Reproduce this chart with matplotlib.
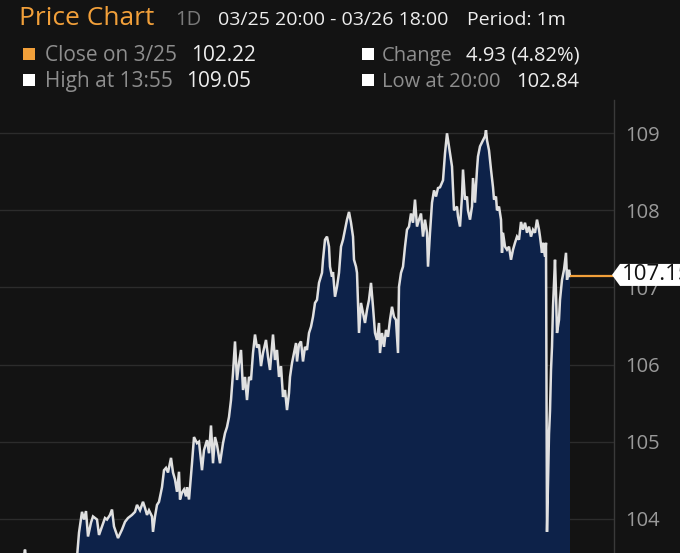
import matplotlib
matplotlib.use("Agg")
import matplotlib.pyplot as plt
from matplotlib import font_manager as fm
from matplotlib.patches import Polygon, Rectangle
from matplotlib.transforms import IdentityTransform

# ---------------- data ----------------
# t: sample position along the session (03/25 20:00 -> 03/26 18:00), price values
t = [0, 3, 6, 9, 12, 15, 18, 21, 23, 25, 27, 30, 33, 36, 40, 44, 48, 52, 56, 60,
     64, 68, 72, 75, 77,
     79, 82, 84, 86, 88, 91, 93, 97, 99, 102, 105, 107, 110, 112, 114, 117, 118,
     122, 125, 128, 132, 135, 137, 140, 143, 145, 147, 149, 152, 153, 155, 157,
     159, 162, 164, 166, 168, 171, 173, 175, 177, 179, 180, 182, 184, 186, 187,
     189, 192, 194, 197, 199, 202, 204, 207, 209, 211, 213, 215, 217, 220, 223,
     225, 227, 229, 231, 233, 235, 237, 239, 241, 243, 245, 247, 249, 251, 253,
     255, 257, 259, 261, 263, 266, 268, 270, 272, 273, 275, 277, 279, 281, 283,
     285, 287, 289, 290, 292, 294, 296, 297, 299, 301, 303, 305, 307, 309, 311,
     313, 315, 317, 319, 322, 323, 325, 327, 329, 330, 332, 333, 335, 337, 339,
     341, 343, 345, 347, 349, 351, 353, 354, 356, 357, 359, 361, 363, 365, 367,
     369, 371, 373, 375, 377, 379, 380, 382, 384, 386, 388, 390, 392, 394, 396,
     398, 399, 401, 403, 405, 407, 409, 411, 413, 415, 417, 419, 421, 423, 425,
     427, 428, 430, 432, 434, 436, 438, 440, 443, 445, 447, 449, 452, 454, 457,
     458, 460, 462, 463, 465, 467, 468, 470, 472, 473, 475, 477, 478, 480, 483,
     485, 486, 487, 489, 491, 493, 494, 496, 497, 499, 501, 502, 503, 505, 507,
     509, 511, 513, 515, 517, 519, 521, 523, 525, 527, 529, 531, 533, 535, 537,
     539, 540, 542, 543, 545, 546, 547, 549, 550, 551, 552, 553, 555, 556, 557,
     559, 560, 562, 564, 566, 567, 569, 570]
price = [102.84, 103.00, 103.10, 103.20, 103.15, 103.30, 103.35, 103.40, 103.45,
         103.60, 103.40, 103.35, 103.30, 103.20, 103.25, 103.30, 103.20, 103.30,
         103.35, 103.30, 103.40, 103.35, 103.45, 103.40, 103.50,
         103.82, 104.09, 103.99, 104.10, 103.77, 103.95, 104.03, 103.99, 103.79,
         103.90, 104.01, 103.99, 104.05, 104.12, 103.90, 103.79, 103.75, 103.86,
         103.96, 104.01, 104.05, 104.09, 104.18, 104.11, 104.22, 104.14, 104.05,
         104.11, 104.03, 103.83, 104.03, 104.18, 104.22, 104.41, 104.63, 104.66,
         104.60, 104.79, 104.60, 104.51, 104.35, 104.61, 104.25, 104.34, 104.38,
         104.29, 104.41, 104.25, 104.72, 105.06, 104.98, 105.00, 104.63, 104.89,
         105.02, 104.85, 105.21, 104.72, 105.06, 104.96, 104.72, 104.98, 105.11,
         105.19, 105.32, 105.54, 105.89, 106.30, 105.80, 106.02, 106.19, 105.67,
         105.84, 105.54, 105.84, 105.80, 106.15, 106.39, 106.22, 106.26, 105.98,
         106.15, 106.32, 106.10, 105.93, 106.23, 106.39, 106.06, 106.19, 105.84,
         105.98, 105.58, 105.67, 105.41, 105.63, 105.84, 106.02, 106.15, 106.28,
         106.04, 106.26, 106.30, 106.04, 106.23, 106.19, 106.41, 106.49, 106.62,
         106.80, 106.84, 107.06, 107.19, 107.36, 107.62, 107.66, 107.53, 107.27,
         107.14, 107.20, 106.88, 107.01, 107.19, 107.53, 107.62, 107.75, 107.88,
         107.98, 107.84, 107.66, 107.36, 107.27, 107.19, 106.41, 106.80, 106.67,
         106.54, 106.71, 106.84, 107.06, 106.75, 106.41, 106.32, 106.54, 106.15,
         106.41, 106.23, 106.45, 106.36, 106.58, 106.75, 106.62, 106.58, 106.15,
         107.01, 107.19, 107.27, 107.53, 107.75, 107.79, 107.96, 107.84, 108.14,
         107.79, 107.88, 107.96, 107.66, 107.88, 107.71, 107.27, 107.71, 108.10,
         108.26, 108.18, 108.29, 108.30, 108.39, 108.74, 109.00, 108.83, 108.57,
         108.00, 108.05, 107.92, 107.79, 108.18, 108.53, 108.14, 108.18, 108.00,
         107.88, 108.05, 108.42, 108.10, 108.53, 108.70, 108.83, 108.91, 108.96,
         109.04, 108.91, 108.78, 108.53, 108.30, 108.14, 108.18, 108.00, 108.05,
         107.88, 107.45, 107.71, 107.53, 107.49, 107.53, 107.36, 107.49, 107.58,
         107.66, 107.62, 107.85, 107.75, 107.84, 107.71, 107.79, 107.66, 107.75,
         107.71, 107.88, 107.75, 107.66, 107.45, 107.58, 107.40, 107.58, 103.83,
         105.10, 105.40, 105.93, 106.23, 106.75, 107.36, 106.93, 106.41, 106.58,
         106.84, 107.10, 107.23, 107.45, 107.10, 107.23, 107.15]
y_ticks = [104, 105, 106, 107, 108, 109]
last_price = 107.15

title = "Price Chart"
span = "1D"
range_txt = "03/25 20:00 - 03/26 18:00"
period_txt = "Period: 1m"
stats_left = [("Close on 3/25", "102.22"), ("High at 13:55", "109.05")]
stats_right = [("Change", "4.93 (4.82%)"), ("Low at 20:00", "102.84")]

# ---------------- style ----------------
avail = {f.name for f in fm.fontManager.ttflist}
FONT = next(c for c in ["Liberation Sans Narrow", "Open Sans", "Noto Sans", "DejaVu Sans"] if c in avail)
plt.rcParams["font.family"] = [FONT, "DejaVu Sans"]

BG = "#131313"
NAVY = "#0d2249"
LINE = "#e0e0e0"
GRID = "#2c2c2c"
ORANGE = "#f2a03a"
GREY = "#8e8e8e"
WHITE = "#eeeeee"

W, H = 680, 553
fig = plt.figure(figsize=(W / 100, H / 100), dpi=100, facecolor=BG)

def fx(px):
    return px / W

def fy(py):
    return 1 - py / H

ax = fig.add_axes([0, 0, fx(614), (553 - 100) / H])
ax.set_facecolor(BG)
ax.set_xlim(0, 614)
ax.set_ylim(103.556, 109.432)

ax.fill_between(t, price, 100, color=NAVY, lw=0, zorder=2)
ax.plot(t, price, color=LINE, lw=1.8, zorder=3, solid_joinstyle="miter")
ax.hlines(last_price, t[-1], ax.get_xlim()[1], color=ORANGE, lw=1.6, zorder=4)

ax.set_yticks(y_ticks)
ax.set_yticklabels([str(v) for v in y_ticks])
ax.yaxis.tick_right()
ax.tick_params(axis="y", length=0, pad=8, labelsize=14.5, labelcolor="#9a9a9a")
ax.set_xticks([])
ax.grid(axis="y", color=GRID, lw=1, zorder=1)
for s in ["top", "left", "bottom"]:
    ax.spines[s].set_visible(False)
ax.spines["right"].set_color("#3a3a3a")
ax.spines["right"].set_linewidth(1)

# price tag
fig.canvas.draw()
yc = ax.transData.transform((0, last_price))[1] + 1
x0 = ax.transData.transform((614, last_price))[0] - 2
tag = Polygon([(x0, yc), (x0 + 8, yc + 11), (W + 5, yc + 11), (W + 5, yc - 11), (x0 + 8, yc - 11)],
              closed=True, transform=IdentityTransform(), facecolor="white", edgecolor="none", zorder=10)
fig.add_artist(tag)
fig.text(fx(x0 + 10), yc / H, f"{last_price:.2f}", color="#111111", fontsize=16,
         va="center", ha="left", zorder=11)

# header
fig.text(fx(19), fy(25), title, color=ORANGE, fontsize=19, va="baseline", ha="left")
fig.text(fx(175), fy(25), span, color="#7a7a7a", fontsize=14.5, va="baseline", ha="left")
fig.text(fx(218), fy(25), range_txt, color=WHITE, fontsize=14, va="baseline", ha="left")
fig.text(fx(467), fy(25), period_txt, color=WHITE, fontsize=14, va="baseline", ha="left")

row_base = [61, 87]
sq_col = [ORANGE, "white"]
for i, (lab, val) in enumerate(stats_left):
    b = row_base[i]
    fig.add_artist(Rectangle((fx(23), fy(b - 1)), 12 / W, 12 / H, transform=fig.transFigure,
                             facecolor=sq_col[i], edgecolor="none"))
    fig.text(fx(45), fy(b), lab, color=GREY, fontsize=15, va="baseline", ha="left")
    fig.text(fx([191, 186][i]), fy(b), val, color=WHITE, fontsize=15, va="baseline", ha="left")
for i, (lab, val) in enumerate(stats_right):
    b = row_base[i]
    fig.add_artist(Rectangle((fx(362), fy(b - 1)), 12 / W, 12 / H, transform=fig.transFigure,
                             facecolor="white", edgecolor="none"))
    fig.text(fx(382), fy(b), lab, color=GREY, fontsize=14.5, va="baseline", ha="left")
    fig.text(fx([466, 516][i]), fy(b), val, color=WHITE, fontsize=14.5, va="baseline", ha="left")

fig.savefig("out.png", dpi=100, facecolor=BG)
